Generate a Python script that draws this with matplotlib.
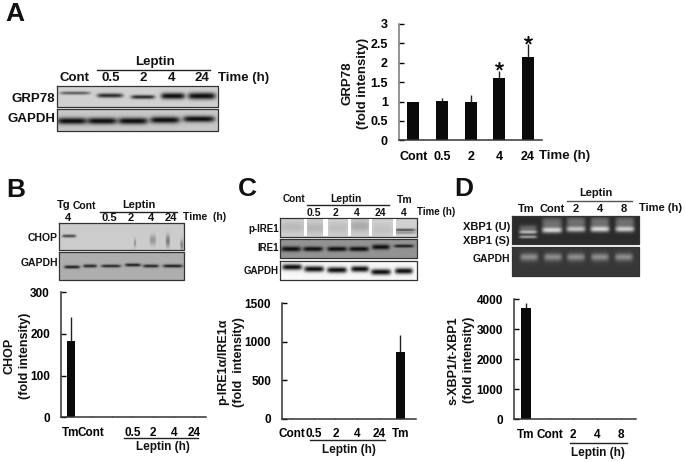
import numpy as np
import matplotlib
matplotlib.use('Agg')
import matplotlib.pyplot as plt

plt.rcParams['font.family'] = ['Liberation Sans', 'DejaVu Sans']
plt.rcParams['font.weight'] = 'bold'

W, H = 685, 462

# bar data
a_labels = ['Cont', '0.5', '2', '4', '24']
a_values = [1.0, 1.02, 0.98, 1.6, 2.15]
a_errors = [0.0, 0.07, 0.2, 0.18, 0.33]
a_stars = [0, 0, 0, 1.91, 2.58]
a_yticks = [0, 0.5, 1, 1.5, 2, 2.5, 3]
a_ylabels = ['0', '0.5', '1', '1.5', '2', '2.5', '3']

b_labels = ['Tm', 'Cont', '', '0.5', '2', '4', '24']
b_values = [182, 0, 0, 0, 0, 0, 0]
b_errors = [58, 0, 0, 0, 0, 0, 0]
b_yticks = [0, 100, 200, 300]

c_labels = ['Cont', '0.5', '2', '4', '24', 'Tm']
c_values = [0, 0, 0, 0, 0, 860]
c_errors = [0, 0, 0, 0, 0, 230]
c_yticks = [0, 500, 1000, 1500]

d_labels = ['Tm', 'Cont', '2', '4', '8']
d_values = [3700, 0, 0, 0, 0]
d_errors = [170, 0, 0, 0, 0]
d_yticks = [0, 1000, 2000, 3000, 4000]

# blot bands: centre x, centre y, half width, half height, strength (pixels)
grp78_bands = [(75, 93, 15, 1.6, 0.6), (110, 95.5, 13, 2.2, 0.85), (143, 97, 12, 2, 0.85),
               (173, 96, 12, 3.2, 1.0), (202, 96, 14, 3.5, 1.0)]
a_gapdh_bands = [(72, 121, 15, 3.4, 1.0), (102, 121, 15, 3.4, 1.0), (133, 121, 15, 3.4, 1.0),
                 (165, 120, 15, 3.4, 1.0), (199, 119, 16, 3.2, 1.0)]
chop_bands = [(69, 236, 7, 1.5, 0.75), (135, 243, 1, 4, 0.35), (153, 240, 3, 5, 0.3),
              (168, 241, 2, 6, 0.45), (182, 245, 1.5, 5, 0.4)]
b_gapdh_bands = [(72, 267, 8, 1.6, 0.9), (90, 266, 7, 1.6, 0.85), (111, 266, 10, 1.5, 0.85),
                 (133, 265, 8, 1.6, 0.9), (151, 266, 8, 1.6, 0.85), (173, 266, 10, 1.6, 0.9)]
pire1_bands = [(292, 227, 12, 6, 0.12), (315, 228, 10, 6, 0.14), (338, 228, 10, 6, 0.1),
               (360, 226, 10, 6, 0.2), (382, 229, 10, 6, 0.08), (405, 230, 11, 1.3, 0.7),
               (405, 233, 11, 1.0, 0.35)]
ire1_bands = [(291, 249, 10, 2.6, 1.0), (313, 249, 10, 2.4, 1.0), (337, 249, 10, 2.4, 1.0),
              (359, 249, 10, 2.4, 1.0), (381, 247, 9, 2.6, 1.0), (404, 246, 10, 1.6, 0.9)]
c_gapdh_bands = [(292, 267, 10, 3, 1.0), (314, 269, 10, 3, 1.0), (337, 270, 10, 3, 1.0),
                 (360, 269, 9, 3, 1.0), (381, 272, 10, 3, 1.0), (404, 271, 9, 3, 1.0)]
xbp1_bands = [(528, 228, 9, 3, 0.3), (528, 232, 9, 2, 0.7), (528, 237, 9, 1.5, 0.6),
              (552, 223, 10, 6, 0.35), (552, 230, 10, 3, 0.85),
              (576, 222, 9.5, 6, 0.35), (576, 229, 9.5, 3, 0.75),
              (600, 222, 9.5, 6, 0.35), (600, 229, 9.5, 3, 0.85),
              (625, 222, 9.5, 6, 0.35), (625, 229, 9.5, 3, 0.8)]
d_gapdh_bands = [(529, 257, 9, 4, 0.45), (553, 257, 9, 4, 0.45), (576, 257, 9, 4, 0.45),
                 (600, 257, 9, 4, 0.45), (624, 257, 9, 4, 0.45)]


def make_axes(left, right, top, bottom):
    return fig.add_axes([left / W, 1 - bottom / H, (right - left) / W, (bottom - top) / H])


def bar_panel(box, xlim, labels, values, errors, ymax, yticks, ylabels, width, ylabel, lab_x,
              xsize=8.5, ysize=8.5, labsize=9):
    ax = make_axes(*box)
    x = np.arange(len(labels))
    ax.bar(x, values, width=width, color='#0a0a0a')
    ax.errorbar(x, values, yerr=[np.zeros(len(x)), errors], fmt='none', ecolor='#222222',
                elinewidth=1, capsize=0)
    ax.set_xlim(*xlim)
    ax.set_ylim(0, ymax)
    ax.set_xticks(x)
    ax.set_xticklabels(labels, fontsize=xsize, fontweight='bold')
    ax.set_yticks(yticks)
    ax.set_yticklabels(ylabels, fontsize=ysize, fontweight='bold')
    ax.tick_params(axis='y', direction='in', length=3.5, width=1, pad=8)
    ax.tick_params(axis='x', direction='in', length=1, width=0.5, pad=7)
    ax.patch.set_alpha(0)
    for s in ['top', 'right']:
        ax.spines[s].set_visible(False)
    for s in ['left', 'bottom']:
        ax.spines[s].set_linewidth(1.1)
        ax.spines[s].set_color('#333333')
    cy = (box[2] + box[3]) / 2
    txt(lab_x, cy + 1, ylabel, size=labsize, rotation=90, linespacing=1.35)
    return ax


def blot(left, right, top, bottom, bg, bands, band_value=0.05):
    # band picture built in pixel space, 3 samples per pixel
    xs = np.linspace(left, right, int(right - left) * 3)
    ys = np.linspace(top, bottom, int(bottom - top) * 3)
    xx, yy = np.meshgrid(xs, ys)
    img = np.full(xx.shape, float(bg))
    for cx, cy, hw, hh, s in bands:
        m = np.exp(-((xx - cx) / hw) ** 6) * np.exp(-((yy - cy) / hh) ** 2) * s
        img = img * (1 - m) + band_value * m
    back.imshow(img, extent=(left, right, bottom, top), cmap='gray', vmin=0, vmax=1,
                aspect='auto', interpolation='bilinear', zorder=1)
    back.plot([left, right, right, left, left], [top, top, bottom, bottom, top],
              color='#333333', lw=0.9, zorder=2)


def txt(x, y, s, size=9, ha='center', va='center', **kw):
    back.text(x, y, s, fontsize=size, ha=ha, va=va, fontweight='bold', color='#111111', **kw)


def rule(x0, x1, y, color='#222222'):
    back.plot([x0, x1], [y, y], color=color, lw=1, zorder=3)


fig = plt.figure(figsize=(W / 100, H / 100), dpi=100)
back = fig.add_axes([0, 0, 1, 1])

# panel A blots
blot(57, 218, 86, 107, 0.82, grp78_bands)
blot(57, 218, 109, 131, 0.78, a_gapdh_bands)
# panel B blots
blot(59, 184, 223, 250, 0.80, chop_bands, band_value=0.1)
blot(59, 184, 252, 280, 0.68, b_gapdh_bands)
# panel C blots
blot(280, 417, 218, 237, 0.82, pire1_bands)
for gx0, gx1 in [(304, 307), (323, 328), (348, 351), (369, 372), (393, 396)]:
    back.fill_between([gx0, gx1], 219, 236, color='white', lw=0, zorder=2)
blot(280, 417, 239, 258, 0.58, ire1_bands)
blot(280, 417, 261, 280, 0.97, c_gapdh_bands)
# panel D gels
blot(512, 639, 216, 244, 0.17, xbp1_bands, band_value=0.95)
blot(512, 639, 247, 276, 0.22, d_gapdh_bands, band_value=0.95)

# panel letters
txt(15, 14, 'A', size=19)
txt(16, 190, 'B', size=19)
txt(247, 189, 'C', size=19)
txt(464, 189, 'D', size=19)

# panel A text
txt(155, 62, 'Leptin', size=9.5)
rule(97, 210, 69.5)
for xp, s in zip([75, 111, 143, 172, 202], a_labels):
    txt(xp, 78, s, size=9.5)
txt(218, 78, 'Time (h)', size=9.5, ha='left')
txt(55, 99, 'GRP78', size=9.5, ha='right')
txt(55, 119, 'GAPDH', size=9.5, ha='right')

# panel B text
txt(139, 205, 'Leptin', size=8)
rule(100, 177, 212)
txt(64, 205, 'Tg', size=8)
txt(84, 206, 'Cont', size=7.5)
txt(68, 218, '4', size=8)
for xp, s in zip([109, 131, 151, 171], b_labels[3:]):
    txt(xp, 218, s, size=8)
txt(183, 217, 'Time  (h)', size=7.5, ha='left')
txt(58, 238, 'CHOP', size=7.5, ha='right')
txt(58, 263, 'GAPDH', size=7.5, ha='right')

# panel C text
txt(294, 199, 'Cont', size=7.2)
txt(346, 199, 'Leptin', size=7.5)
rule(307, 389, 205)
txt(405, 200, 'Tm', size=7.5)
for xp, s in zip([314, 336, 357, 380, 404], ['0.5', '2', '4', '24', '4']):
    txt(xp, 213, s, size=7.5)
txt(417, 212, 'Time (h)', size=7, ha='left')
txt(279, 229, 'p-IRE1', size=7, ha='right')
txt(279, 248, 'IRE1', size=7, ha='right')
txt(279, 271, 'GAPDH', size=7, ha='right')

# panel D text
txt(596, 193, 'Leptin', size=8)
rule(567, 632, 200.5, color='#555555')
for xp, s in zip([526, 552, 576, 600, 624], ['Tm', 'Cont', '2', '4', '8']):
    txt(xp, 209, s, size=8)
txt(639, 208, 'Time (h)', size=8, ha='left')
txt(510, 227, 'XBP1 (U)', size=8, ha='right')
txt(510, 241, 'XBP1 (S)', size=8, ha='right')
txt(510, 259, 'GAPDH', size=7.5, ha='right')

# leptin brackets under the bar panels
rule(124, 198, 438)
txt(163, 447, 'Leptin (h)', size=8.5)
rule(310, 385, 440)
txt(349, 450, 'Leptin (h)', size=8.5)
rule(570, 627, 443)
txt(598, 453, 'Leptin (h)', size=8.5)

# bar charts
ax_a = bar_panel((399, 542, 24, 140.3), (-0.5, 4.49), a_labels, a_values, a_errors, 3, a_yticks,
                 a_ylabels, 0.42, 'GRP78\n(fold intensity)', 355, xsize=9, ysize=9, labsize=9.5)
ax_a.tick_params(axis='x', length=0, pad=8)
ax_a.spines['left'].set_color('#777777')
ax_a.plot([3, 4], a_stars[3:], ls='none', marker=(5, 2, 0), color='#111111', ms=6, mew=1.1)
txt(565, 156, 'Time (h)', size=9.5)

bar_panel((61, 206, 292.3, 417.3), (-0.47, 6.57), b_labels, b_values, b_errors, 300, b_yticks,
          [str(v) for v in b_yticks], 0.4, 'CHOP\n(fold intensity)', 17)

bar_panel((282.3, 415.7, 303, 418.7), (-0.46, 5.71), c_labels, c_values, c_errors, 1500, c_yticks,
          [str(v) for v in c_yticks], 0.4, 'p-IRE1α/IRE1α\n(fold  intensity)', 231)

bar_panel((514.3, 636, 299.3, 419.3), (-0.49, 4.65), d_labels, d_values, d_errors, 4000, d_yticks,
          [str(v) for v in d_yticks], 0.41, 's-XBP1/t-XBP1\n(fold intensity)', 461)

back.set_xlim(0, W)
back.set_ylim(H, 0)
back.axis('off')

fig.savefig('out.png', dpi=100)
